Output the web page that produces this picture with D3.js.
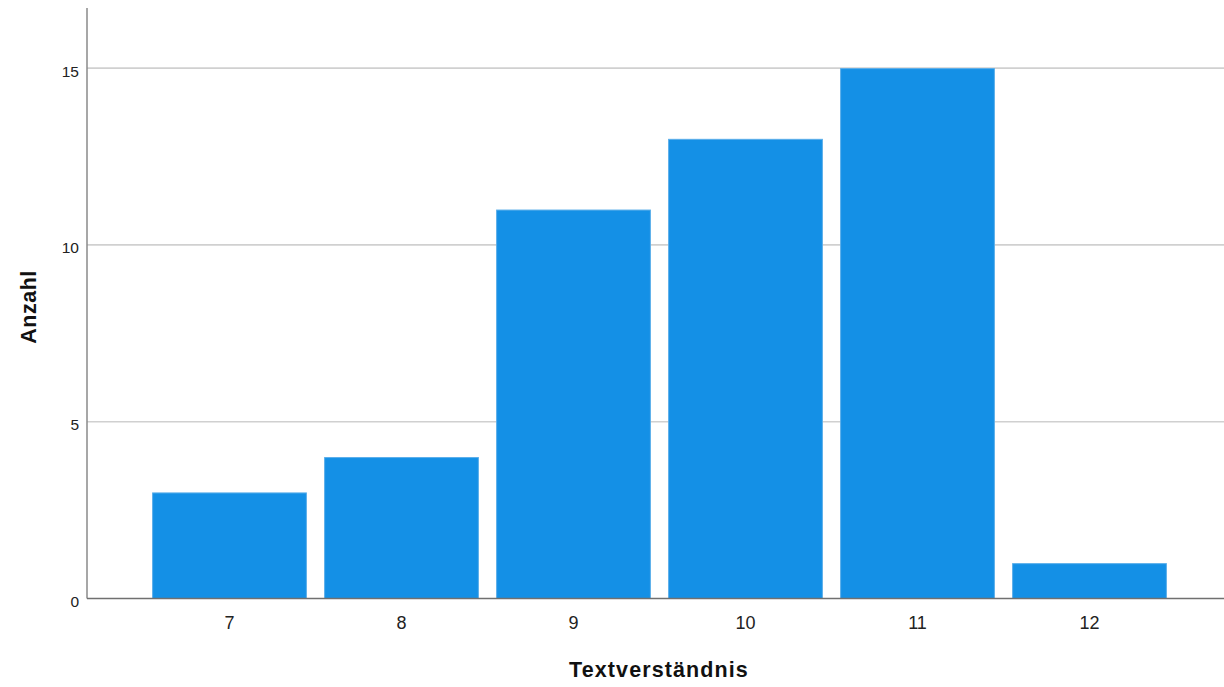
<!DOCTYPE html>
<html><head><meta charset="utf-8">
<script src="https://cdn.jsdelivr.net/npm/d3@7"></script>
<style>body{margin:0;background:#fff}svg{display:block}text{font-family:Arial,"Liberation Sans",sans-serif}</style>
</head><body>
<svg id="c" width="1224" height="687"></svg>
<script>
const categories = ["7","8","9","10","11","12"];
const counts = [3,4,11,13,15,1];
const yTicks = [0,5,10,15];
const xTitle = "Textverständnis";
const yTitle = "Anzahl";

(function(){
const svg = d3.select("#c");
const pL = 87, pR = 1224, pT = 8, pB = 598.5;
const y = d3.scaleLinear().domain([0,16.7]).range([pB, pT]);
const x = d3.scaleBand().domain(categories).range([143.5, 1175.5]).paddingInner(0.1).paddingOuter(0.05);

// gridlines
svg.append("g").selectAll("line").data(yTicks.filter(d=>d>0)).join("line")
  .attr("x1", pL).attr("x2", pR)
  .attr("y1", d=>y(d)).attr("y2", d=>y(d))
  .attr("stroke","#d0d0d0").attr("stroke-width",1.6);

// bars
svg.append("g").selectAll("rect").data(counts).join("rect")
  .attr("x",(d,i)=>x(categories[i])+0.5)
  .attr("width",x.bandwidth()-1)
  .attr("y",d=>y(d)+0.5)
  .attr("height",d=>pB-y(d)-0.5)
  .attr("fill","#1490e6").attr("stroke","#5aaeea").attr("stroke-width",1);

// y axis
const yAxis = d3.axisLeft(y).tickValues(yTicks).tickSize(0).tickPadding(8).tickFormat(d3.format("d"));
const gy = svg.append("g").attr("transform",`translate(${pL},0)`).call(yAxis);
gy.select(".domain").remove();
gy.selectAll("text").attr("font-size",15.5).attr("fill","#222").attr("dy","0.52em");
svg.append("line").attr("x1",pL).attr("x2",pL).attr("y1",pT).attr("y2",pB)
  .attr("stroke","#8a8a8a").attr("stroke-width",1.5);

// x axis
const xAxis = d3.axisBottom(x).tickSize(0).tickPadding(18);
const gx = svg.append("g").attr("transform",`translate(0,${pB})`).call(xAxis);
gx.select(".domain").remove();
gx.selectAll("text").attr("font-size",18).attr("fill","#222");
svg.append("line").attr("x1",pL).attr("x2",pR).attr("y1",pB).attr("y2",pB)
  .attr("stroke","#707070").attr("stroke-width",1.5);

// titles
svg.append("text").attr("x",659).attr("y",677).attr("text-anchor","middle")
  .attr("font-size",21.5).attr("font-weight","bold").attr("letter-spacing",1.1)
  .attr("fill","#111").text(xTitle);
svg.append("text").attr("transform","translate(36,307) rotate(-90)").attr("text-anchor","middle")
  .attr("font-size",21.5).attr("font-weight","bold").attr("letter-spacing",0.5)
  .attr("fill","#111").text(yTitle);
})();
</script>
</body></html>
